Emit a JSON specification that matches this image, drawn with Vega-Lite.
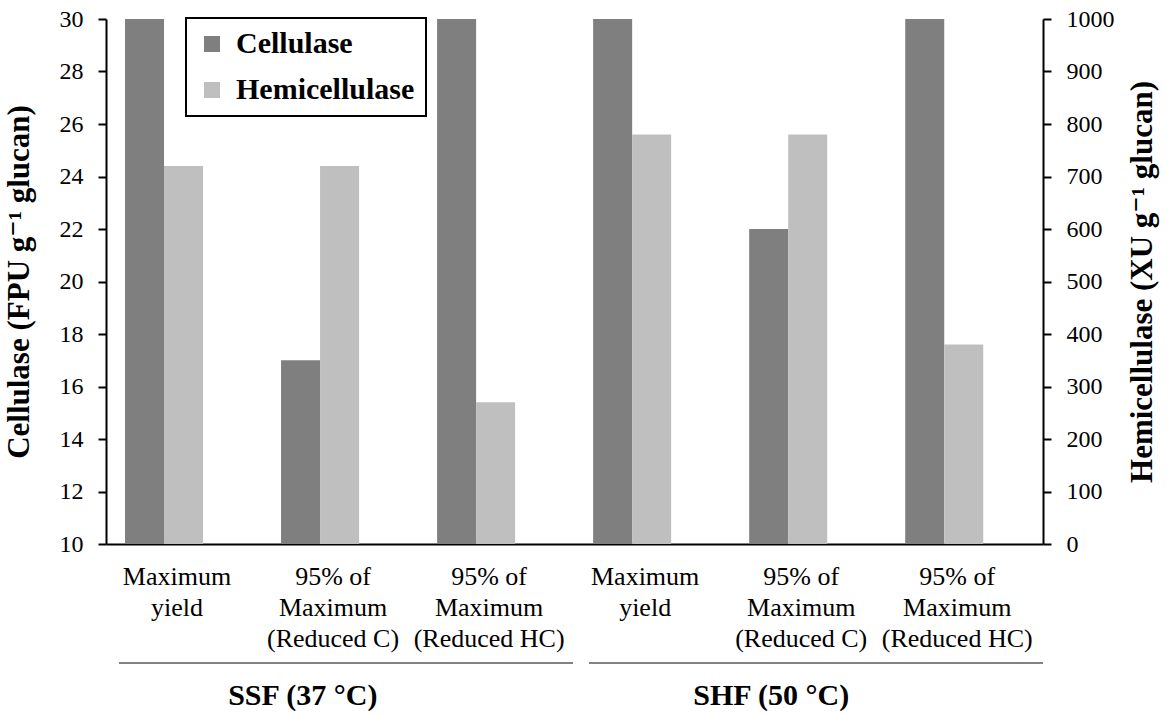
{
  "$schema": "https://vega.github.io/schema/vega-lite/v6.json",
  "width": 937,
  "height": 525,
  "autosize": {"type": "none"},
  "padding": {"left": 106, "top": 19, "right": 124, "bottom": 171},
  "background": "white",
  "config": {
    "view": {"stroke": null},
    "font": "Liberation Serif, Times New Roman, DejaVu Serif, serif",
    "axis": {"grid": false},
    "legend": {"strokeWidth": 2}
  },
  "datasets": {
    "enzymes": [
      {"cond": "SSF|Maximum|yield", "Cellulase": 30, "Hemicellulase": 720},
      {"cond": "SSF|95% of|Maximum|(Reduced C)", "Cellulase": 17, "Hemicellulase": 720},
      {"cond": "SSF|95% of|Maximum|(Reduced HC)", "Cellulase": 30, "Hemicellulase": 270},
      {"cond": "SHF|Maximum|yield", "Cellulase": 30, "Hemicellulase": 780},
      {"cond": "SHF|95% of|Maximum|(Reduced C)", "Cellulase": 22, "Hemicellulase": 780},
      {"cond": "SHF|95% of|Maximum|(Reduced HC)", "Cellulase": 30, "Hemicellulase": 380}
    ],
    "groups": [
      {"group": "SSF (37 °C)"},
      {"group": "SHF (50 °C)"}
    ]
  },
  "layer": [
    {
      "data": {"name": "enzymes"},
      "transform": [{"fold": ["Cellulase", "Hemicellulase"], "as": ["enzyme", "loading"]}],
      "encoding": {
        "x": {
          "field": "cond", "type": "nominal", "sort": null,
          "scale": {"paddingInner": 0.5, "paddingOuter": 0.2524, "align": 0.2414},
          "axis": {
            "title": null,
            "labelExpr": "slice(split(datum.value, '|'), 1)",
            "labelFont": "Liberation Serif, Times New Roman, DejaVu Serif, serif", "labelFontSize": 26, "labelColor": "black",
            "labelLineHeight": 31, "labelAngle": 0, "labelPadding": 19, "labelOffset": 13,
            "labelLimit": 0, "labelOverlap": false,
            "ticks": false, "tickSize": 0,
            "domainColor": "black", "domainWidth": 2
          }
        },
        "xOffset": {
          "field": "enzyme", "type": "nominal",
          "scale": {"domain": ["Cellulase", "Hemicellulase"], "paddingInner": 0, "paddingOuter": 0}
        },
        "color": {
          "field": "enzyme", "type": "nominal",
          "scale": {"domain": ["Cellulase", "Hemicellulase"], "range": ["#7f7f7f", "#bfbfbf"]},
          "legend": {
            "title": null, "orient": "none", "legendX": 80, "legendY": -1,
            "direction": "vertical",
            "symbolType": "square", "symbolSize": 256, "symbolStrokeWidth": 0, "symbolOpacity": 1,
            "labelFont": "Liberation Serif, Times New Roman, DejaVu Serif, serif", "labelFontSize": 30, "labelFontWeight": "bold", "labelColor": "black",
            "labelLimit": 0,
            "labelOffset": 9, "rowPadding": 16, "padding": 11,
            "strokeColor": "black", "fillColor": "white"
          }
        }
      },
      "layer": [
        {
          "transform": [{"filter": "datum.enzyme === 'Cellulase'"}],
          "mark": {"type": "bar"},
          "encoding": {
            "y": {
              "field": "loading", "type": "quantitative",
              "scale": {"domain": [10, 30], "nice": false, "zero": false},
              "axis": {
                "orient": "left",
                "title": "Cellulase  (FPU g⁻¹ glucan)",
                "titleFont": "Liberation Serif, Times New Roman, DejaVu Serif, serif", "titleFontSize": 31, "titleFontWeight": "bold", "titleColor": "black",
                "titlePadding": 24,
                "values": [10, 12, 14, 16, 18, 20, 22, 24, 26, 28, 30],
                "labelFont": "Liberation Serif, Times New Roman, DejaVu Serif, serif", "labelFontSize": 24, "labelColor": "black", "labelPadding": 15,
                "tickColor": "black", "tickSize": 8, "tickWidth": 2,
                "domainColor": "black", "domainWidth": 2
              }
            },
            "y2": {"datum": 10}
          }
        },
        {
          "transform": [{"filter": "datum.enzyme === 'Hemicellulase'"}],
          "mark": {"type": "bar"},
          "encoding": {
            "y": {
              "field": "loading", "type": "quantitative",
              "scale": {"domain": [0, 1000], "nice": false},
              "axis": {
                "orient": "right",
                "title": "Hemicellulase (XU g⁻¹ glucan)",
                "titleAngle": 270,
                "titleFont": "Liberation Serif, Times New Roman, DejaVu Serif, serif", "titleFontSize": 31, "titleFontWeight": "bold", "titleColor": "black",
                "titlePadding": 44,
                "format": "d",
                "values": [0, 100, 200, 300, 400, 500, 600, 700, 800, 900, 1000],
                "labelFont": "Liberation Serif, Times New Roman, DejaVu Serif, serif", "labelFontSize": 24, "labelColor": "black", "labelPadding": 15,
                "tickColor": "black", "tickSize": 8, "tickWidth": 2,
                "domainColor": "black", "domainWidth": 2
              }
            }
          }
        }
      ],
      "resolve": {"scale": {"y": "independent"}}
    },
    {
      "data": {"name": "groups"},
      "mark": {"type": "rule", "color": "#595959", "strokeWidth": 1.5},
      "encoding": {
        "x": {
          "field": "group", "type": "nominal", "sort": null, "bandPosition": 0,
          "scale": {"paddingInner": 0.034, "paddingOuter": 0.0138, "align": 1},
          "axis": null
        },
        "x2": {"field": "group", "bandPosition": 1},
        "y": {"datum": 5.467, "scale": {"domain": [10, 30], "nice": false, "zero": false}, "axis": null}
      }
    },
    {
      "data": {"name": "groups"},
      "mark": {"type": "text", "font": "Liberation Serif, Times New Roman, DejaVu Serif, serif", "fontSize": 30, "fontWeight": "bold", "color": "black", "baseline": "middle", "align": "center"},
      "encoding": {
        "x": {
          "field": "group", "type": "nominal", "sort": null,
          "scale": {"paddingInner": 0, "paddingOuter": 0.2394, "align": 0.42},
          "axis": null
        },
        "y": {"datum": 4.21, "scale": {"domain": [10, 30], "nice": false, "zero": false}, "axis": null},
        "text": {"field": "group"}
      }
    }
  ],
  "resolve": {"scale": {"x": "independent", "y": "independent"}}
}
